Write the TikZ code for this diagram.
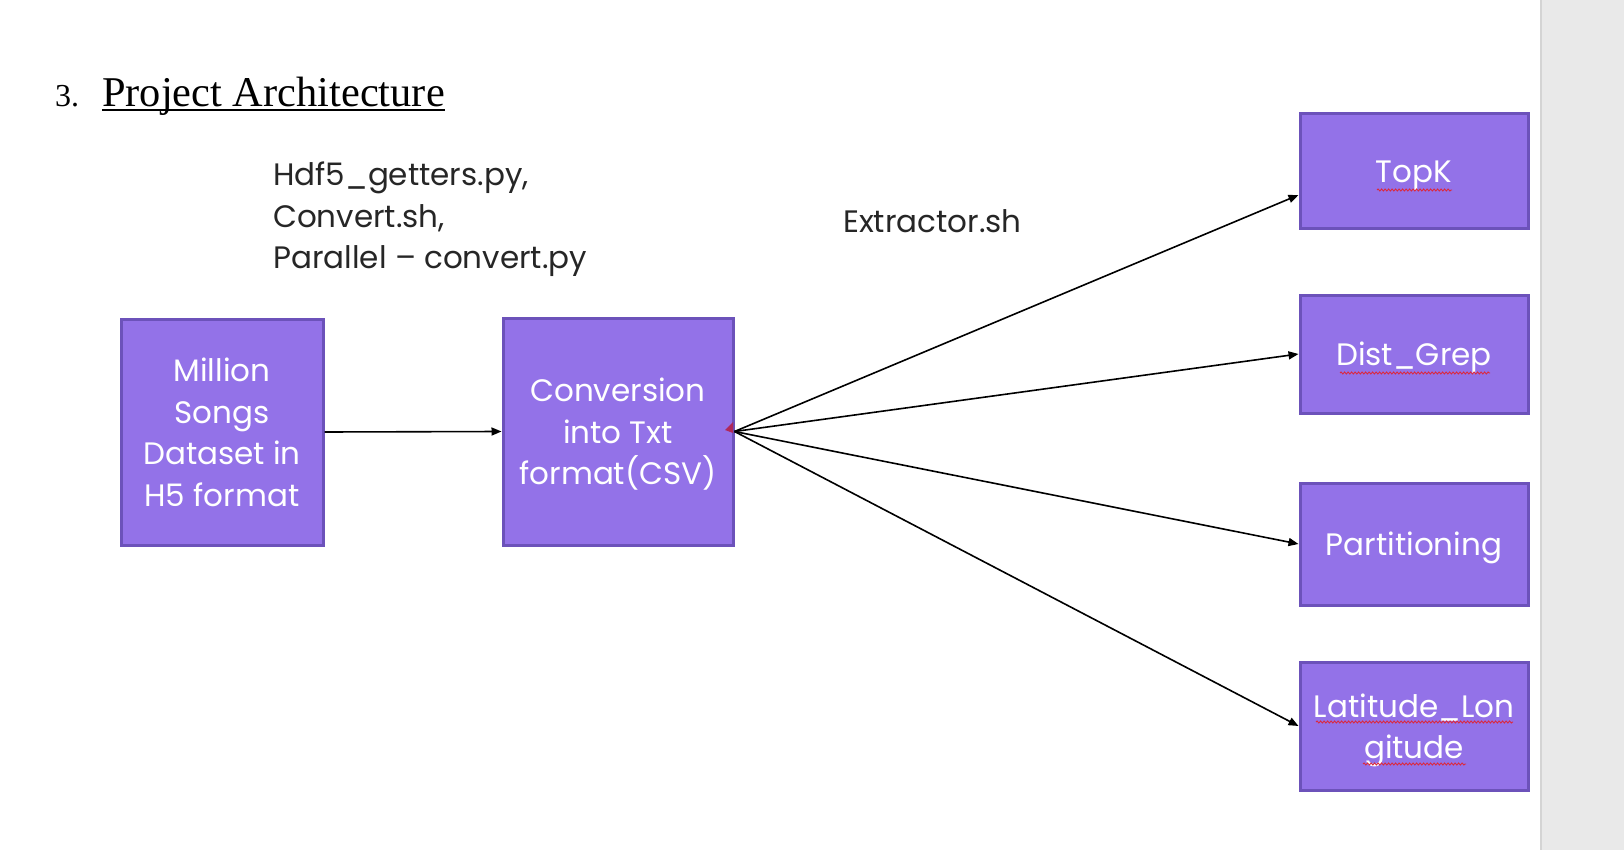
\documentclass[tikz,border=0pt]{standalone}
\usepackage{fontspec}
\setmainfont{Liberation Serif}
\newfontfamily\gothic{Poppins}
\usetikzlibrary{arrows.meta,decorations.pathmorphing}
\definecolor{boxfill}{RGB}{147,114,232}
\definecolor{boxline}{RGB}{108,82,186}
\definecolor{panelgray}{RGB}{233,233,233}
\definecolor{panelline}{RGB}{212,212,212}
\definecolor{spellred}{RGB}{220,40,60}
\definecolor{pinmark}{RGB}{176,40,90}
\begin{document}
\begin{tikzpicture}[x=1pt,y=-1pt,
  procbox/.style={draw=boxline, line width=3pt, fill=boxfill, text=white,
    font=\gothic\fontsize{31}{41.5}\selectfont, align=center, inner sep=0pt, text depth=0pt},
  flow/.style={line width=1.6pt, -{Triangle[length=10pt,width=8pt]}},
  lbl/.style={font=\gothic\fontsize{31}{41.5}\selectfont, text=black!85, inner sep=0pt},
  wavy/.style={spellred, line width=0.9pt, decorate,
    decoration={snake, amplitude=1pt, segment length=3.5pt}}]
\fill[white] (0,0) rectangle (1624,850);
\useasboundingbox (0,0) rectangle (1624,850);
% side panel
\fill[panelgray] (1540,0) rectangle (1624,850);
\draw[panelline, line width=2pt] (1541,0) -- (1541,850);
% title
\node[font=\fontsize{32}{38}\selectfont, anchor=base west, inner sep=0pt] (num) at (55,107) {3.};
\node[font=\fontsize{42.4}{50}\selectfont, anchor=base west, inner sep=0pt] (title) at (102,107) {Project Architecture};
\draw[line width=2pt] ([yshift=-3pt]title.base west) -- ([yshift=-3pt]title.base east);
% labels
\node[lbl, anchor=base west, align=left] (scripts) at (273,269) {Hdf5\_getters.py,\\Convert.sh,\\Parallel – convert.py};
\node[lbl, anchor=base west] (extr) at (843,233) {Extractor.sh};
% boxes
\node[procbox, minimum width=202pt, minimum height=226pt] (ms) at (222,432) {Million\\Songs\\Dataset in\\H5 format};
\node[procbox, minimum width=230pt, minimum height=227pt] (conv) at (618,431.5) {Conversion\\into Txt\\format(CSV)};
\node[procbox, minimum width=228pt, minimum height=115pt] (topk) at (1414,171.5) {TopK};
\node[procbox, minimum width=228pt, minimum height=118pt] (dist) at (1414,354) {Dist\_Grep};
\node[procbox, minimum width=228pt, minimum height=122pt] (part) at (1414,544) {Partitioning};
\node[procbox, minimum width=228pt, minimum height=128pt] (latlon) at (1414,726) {Latitude\_Lon\\gitude};
% spell-check marks
\draw[wavy] (1377,190) -- (1452,190);
\draw[wavy] (1340,373) -- (1490,373);
\draw[wavy] (1316,722) -- (1513,722);
\draw[wavy] (1363,764) -- (1466,764);
% connectors
\draw[flow] (ms.east) -- (conv.west);
\draw[flow] (conv.east) -- ([yshift=-23.5pt]topk.west);
\draw[flow] (conv.east) -- (dist.west);
\draw[flow] (conv.east) -- (part.west);
\draw[flow] (conv.east) -- (latlon.west);
\fill[pinmark] (733,422) -- (725,430) -- (733,433) -- cycle;
\end{tikzpicture}
\end{document}
